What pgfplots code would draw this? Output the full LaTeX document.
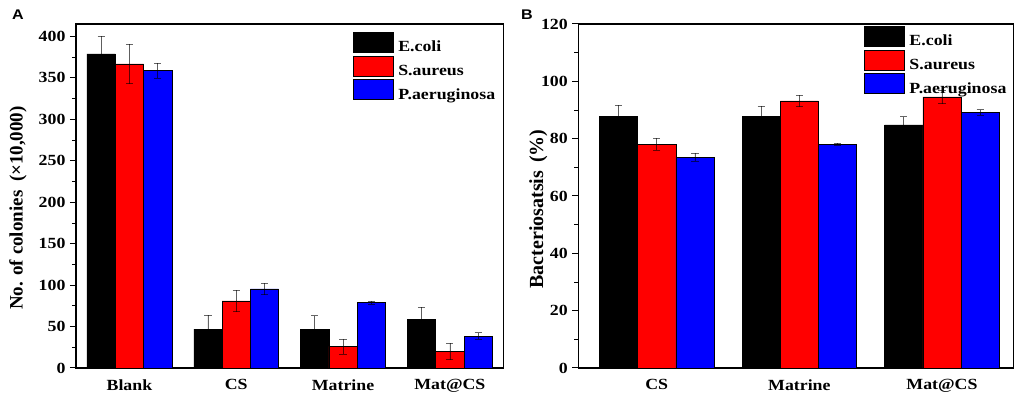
\documentclass[border=0pt]{standalone}
\usepackage{fontspec}
\setmainfont{Liberation Serif}
\newfontfamily\wide{Liberation Serif}[FakeStretch=1.15]
\newfontfamily\widesans{Liberation Sans}[FakeStretch=1.15]
\usepackage{pgfplots}
\pgfplotsset{compat=1.18}
\pgfplotsset{
  mybars/.style={
    scale only axis,
    anchor=south west,
    ybar,
    axis line style={line width=1.1pt},
    tick align=outside,
    ytick pos=left,
    xtick pos=bottom,
    major x tick style={draw=none},
    major y tick style={line width=1pt, black},
    minor y tick style={line width=0.8pt, black},
    major tick length=6pt,
    minor tick length=4pt,
    minor y tick num=1,
    xtick=data,
    /pgf/number format/assume math mode=true,
    ticklabel style={font=\wide\bfseries\fontsize{15.5}{15.5}\selectfont},
    yticklabel style={xshift=-1pt},
    xticklabel style={yshift=-2pt},
    ylabel style={font=\bfseries\fontsize{19}{19}\selectfont, anchor=center},
    legend style={draw=none, fill=none, inner sep=0pt, outer sep=0pt,
      row sep=2.5pt, column sep=5pt, anchor=north west,
      font=\wide\bfseries\fontsize{15.5}{15.5}\selectfont,
      nodes={inner sep=0pt}},
    legend cell align=left,
  },
  myplot/.style={draw=black, line width=0.5pt, fill=#1,
    legend image code/.code={\draw[fill=#1, draw=black, line width=0.4pt] (0pt,-5pt) rectangle (40pt,15pt);},
    error bars/.cd, y dir=both, y explicit,
    error mark=|,
    error bar style={line width=0.6pt, black, opacity=0.6},
    error mark options={line width=0.6pt, black, opacity=0.6, mark size=3.6pt},
    /pgfplots/.cd},
}
\begin{document}
\begin{tikzpicture}
\useasboundingbox (0,0) rectangle (1021pt,401pt);
\node[anchor=base west, font=\widesans\bfseries\fontsize{14}{14}\selectfont, inner sep=0pt] at (12pt,381pt) {A};
\node[anchor=base west, font=\widesans\bfseries\fontsize{14}{14}\selectfont, inner sep=0pt] at (521pt,381pt) {B};
\begin{axis}[mybars,
  at={(76pt,33pt)}, width=427.3pt, height=344pt,
  xmin=-0.5, xmax=3.5, ymin=0, ymax=415,
  bar width=0.265,
  ytick={0,50,...,400},
  xticklabels={Blank,CS,Matrine,Mat@CS},
  ylabel={No. of colonies\hspace{0.45em}(×10,000)},
  ylabel style={at={(axis description cs:-0.136,0.465)}},
  legend style={at={(rel axis cs:0.648,0.977)}},
]
\addplot[bar shift=-0.265, myplot=black] coordinates {
  (0,379) +- (0,21)
  (1,47) +- (0,17)
  (2,47) +- (0,16)
  (3,59) +- (0,14)
};
\addplot[bar shift=0, myplot=red] coordinates {
  (0,367) +- (0,24)
  (1,81) +- (0,13)
  (2,26) +- (0,9)
  (3,20) +- (0,10)
};
\addplot[bar shift=0.265, myplot=blue] coordinates {
  (0,359) +- (0,9)
  (1,95.5) +- (0,7)
  (2,79) +- (0,2)
  (3,38.5) +- (0,4)
};
\legend{E.coli,S.aureus,P.aeruginosa}
\end{axis}
\begin{axis}[mybars,
  at={(578.3pt,33pt)}, width=435pt, height=344pt,
  xmin=-0.55, xmax=2.5, ymin=0, ymax=120,
  bar width=0.268,
  ytick={0,20,...,120},
  xticklabels={CS,Matrine,Mat@CS},
  ylabel={Bacteriosatsis\hspace{0.4em}(\%)},
  ylabel style={at={(axis description cs:-0.092,0.462)}, font=\bfseries\fontsize{20}{20}\selectfont},
  legend style={at={(rel axis cs:0.657,0.994)}},
]
\addplot[bar shift=-0.268, myplot=black] coordinates {
  (0,87.9) +- (0,3.8)
  (1,87.9) +- (0,3.5)
  (2,84.8) +- (0,2.9)
};
\addplot[bar shift=0, myplot=red] coordinates {
  (0,78.0) +- (0,2.1)
  (1,93.2) +- (0,2.0)
  (2,94.6) +- (0,2.4)
};
\addplot[bar shift=0.268, myplot=blue] coordinates {
  (0,73.5) +- (0,1.4)
  (1,78.1) +- (0,0.3)
  (2,89.2) +- (0,0.9)
};
\legend{E.coli,S.aureus,P.aeruginosa}
\end{axis}
\end{tikzpicture}
\end{document}
